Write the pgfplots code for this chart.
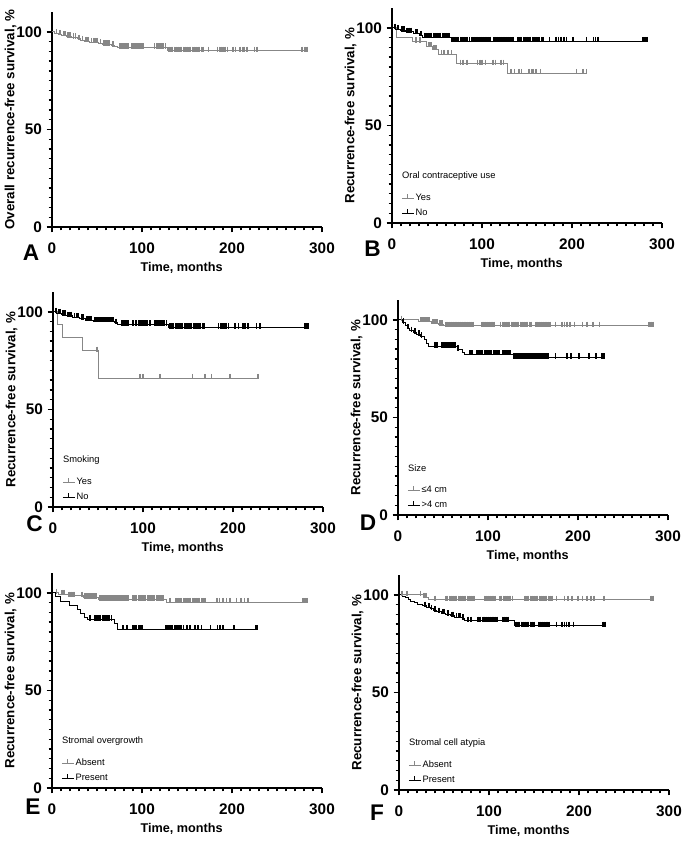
\documentclass[border=0pt]{standalone}
\usepackage{fontspec}
\setmainfont{Liberation Sans}
\usepackage{pgfplots}
\pgfplotsset{compat=1.18}
\definecolor{kmgray}{RGB}{135,135,135}
\tikzset{ltitle/.style={anchor=west, font=\fontsize{7}{8}\selectfont, inner sep=0pt}}
\pgfplotsset{
  km/.style={
    scale only axis, width=202.5pt, height=161pt, anchor=south west,
    xmin=0, xmax=300, ymin=0, ymax=110,
    axis lines=left, axis line style={-, line width=1.3pt},
    xtick={0,100,200,300}, ytick={0,50,100},
    minor x tick num=9, minor y tick num=9,
    tick align=outside,
    major tick length=4pt, minor tick length=2.6pt,
    tick style={line width=1pt, black},
    /pgf/number format/assume math mode=true,
    ticklabel style={font=\fontsize{11.5}{12}\selectfont\bfseries},
    xticklabel style={yshift=-4pt},
    xlabel={Time, months},
    every axis y label/.style={at={(axis description cs:0,0.5)}, xshift=-31pt,
      rotate=90, anchor=center, font=\fontsize{10}{11}\selectfont\bfseries},
    every axis x label/.style={at={(axis description cs:0.48,0)}, anchor=center,
      yshift=-30.5pt, font=\fontsize{9.5}{11}\selectfont\bfseries},
    ylabel={Recurrence-free survival, \%},
    legend style={at={(axis cs:10,2)}, anchor=south west, draw=none, fill=none,
      font=\fontsize{7}{8}\selectfont, row sep=3pt, inner sep=0pt,
      nodes={inner sep=1pt}},
    legend cell align=left,
    legend image code/.code={
      \draw[##1, mark=none] (0pt,0pt) -- (9pt,0pt);
      \draw[##1, mark=none] (4.5pt,0pt) -- (4.5pt,3pt);},
  },
  curve/.style={const plot, line width=0.75pt, mark=none, forget plot},
  cens/.style={only marks, mark=|, mark size=2pt, forget plot,
    mark options={line width=1.3pt, yshift=1.2pt}},
}
\begin{document}
\begin{tikzpicture}
\useasboundingbox (0,0) rectangle (513.75pt,633pt);

% A
\begin{axis}[km, at={(39pt,462.75pt)}, ylabel={Overall recurrence-free survival, \%}]
\addplot[curve, kmgray] coordinates {(0,100)(3,99.4)(7,98.8)(11,98.2)(16,97.6)(22,97)(28,96.4)(32,95.8)(36,95.2)(42,94.7)(52,94.1)(56,93.5)(66,93)(70,92.4)(73,91.9)(128,90.3)(284,90.3)};
\addplot[cens, kmgray] coordinates {(5,99.4)(9,98.8)(13,98.2)(15,98.2)(18,97.6)(20,97.6)(24,97)(26,97)(30,96.4)(34,95.8)(38,95.2)(40,95.2)(44,94.7)(46,94.7)(48,94.7)(50,94.7)(54,94.1)(58,93.5)(60,93.5)(62,93.5)(64,93.5)(68,93)(75,91.9)(77,91.9)(79,91.9)(81,91.9)(83,91.9)(85,91.9)(89,91.9)(91,91.9)(93,91.9)(95,91.9)(97,91.9)(99,91.9)(101,91.9)(114,91.9)(116,91.9)(118,91.9)(120,91.9)(122,91.9)(124,91.9)(126,91.9)
(130,90.3)(132,90.3)(134,90.3)(136,90.3)(138,90.3)(140,90.3)(142,90.3)(144,90.3)(146,90.3)(148,90.3)(150,90.3)(152,90.3)(154,90.3)(156,90.3)(158,90.3)(160,90.3)(162,90.3)(164,90.3)(166,90.3)(168,90.3)
(174,90.3)(184,90.3)(186,90.3)(188,90.3)(190,90.3)(192,90.3)(195,90.3)(201,90.3)(204,90.3)(209,90.3)(212,90.3)(214,90.3)(217,90.3)(225,90.3)(228,90.3)(278,90.3)(281,90.3)(283,90.3)};
\end{axis}

% B
\begin{axis}[km, at={(294pt,465.75pt)}]
\addplot[curve, kmgray] coordinates {(0,100)(5,95)(23,93)(38,90.5)(45,89)(52,86.5)(72,81.5)(128,76.8)(217,76.8)};
\addplot[cens, kmgray] coordinates {(27,93)(31,93)(41,90.5)(43,90.5)(47,89)(49,89)(55,86.5)(58,86.5)(62,86.5)(66,86.5)(76,81.5)(79,81.5)(83,81.5)(95,81.5)(98,81.5)(100,81.5)(104,81.5)(112,81.5)(115,81.5)(121,81.5)(124,81.5)(132,76.8)(136,76.8)(141,76.8)(144,76.8)(152,76.8)(155,76.8)(157,76.8)(160,76.8)(165,76.8)(205,76.8)(212,76.8)(216,76.8)};
\addplot[curve, black] coordinates {(0,100)(4,99.3)(9,98.6)(15,97.9)(24,97.2)(31,96.2)(34,95.2)(66,93.2)(284,93.2)};
\addplot[cens, black] coordinates {(3,100)(6,99.3)(7,99.3)(11,98.6)(13,98.6)(17,97.9)(19,97.9)(21,97.9)(26,97.2)(28,97.2)(32,96.2)(36,95.2)(38,95.2)(40,95.2)(42,95.2)(44,95.2)(46,95.2)(48,95.2)(50,95.2)(52,95.2)(54,95.2)(56,95.2)(58,95.2)(60,95.2)(62,95.2)(64,95.2)
(68,93.2)(70,93.2)(72,93.2)(74,93.2)(76,93.2)(78,93.2)(80,93.2)(82,93.2)(84,93.2)(86,93.2)(89,93.2)(91,93.2)(93,93.2)(95,93.2)(97,93.2)(99,93.2)(101,93.2)(103,93.2)(105,93.2)(107,93.2)(109,93.2)
(113,93.2)(115,93.2)(117,93.2)(119,93.2)(121,93.2)(123,93.2)(125,93.2)(127,93.2)(129,93.2)(131,93.2)(133,93.2)(135,93.2)
(140,93.2)(142,93.2)(144,93.2)(146,93.2)(148,93.2)(150,93.2)(152,93.2)(154,93.2)(156,93.2)(158,93.2)(160,93.2)(162,93.2)(164,93.2)(166,93.2)(168,93.2)
(175,93.2)(182,93.2)(185,93.2)(188,93.2)(191,93.2)(194,93.2)(201,93.2)(216,93.2)(224,93.2)(226,93.2)(229,93.2)(279,93.2)(281,93.2)(283,93.2)};
\node[ltitle] at (axis cs:11,24) {Oral contraceptive use};
\addlegendimage{kmgray, line width=0.75pt}\addlegendentry{Yes}
\addlegendimage{black, line width=0.75pt}\addlegendentry{No}
\end{axis}

% C
\begin{axis}[km, at={(39.75pt,252.75pt)}]
\addplot[curve, kmgray] coordinates {(0,100)(5,93.3)(11,86.7)(33,80)(51,66)(228,66)};
\addplot[cens, kmgray] coordinates {(49,80)(97,66)(100,66)(119,66)(155,66)(169,66)(176,66)(197,66)(228,66)};
\addplot[curve, black] coordinates {(0,100)(4,99.3)(9,98.6)(14,97.9)(22,97.2)(30,96.5)(36,95.8)(45,95.1)(68,94.4)(72,93.5)(128,92)(285,92)};
\addplot[cens, black] coordinates {(3,100)(6,99.3)(8,99.3)(11,98.6)(13,98.6)(16,97.9)(18,97.9)(20,97.9)(24,97.2)(26,97.2)(28,97.2)(32,96.5)(34,96.5)(38,95.8)(40,95.8)(42,95.8)(47,95.1)(49,95.1)(51,95.1)(53,95.1)(55,95.1)(57,95.1)(59,95.1)(61,95.1)(63,95.1)(65,95.1)(67,95.1)(70,94.4)
(76,93.5)(78,93.5)(80,93.5)(82,93.5)(84,93.5)(89,93.5)(92,93.5)(95,93.5)(97,93.5)(99,93.5)(101,93.5)(103,93.5)(105,93.5)(108,93.5)(113,93.5)(115,93.5)(117,93.5)(119,93.5)(121,93.5)(123,93.5)(126,93.5)
(130,92)(132,92)(134,92)(136,92)(138,92)(140,92)(142,92)(144,92)(146,92)(148,92)(150,92)(152,92)(154,92)(156,92)(158,92)(160,92)(162,92)(164,92)(166,92)(168,92)
(184,92)(186,92)(188,92)(190,92)(192,92)(195,92)(202,92)(206,92)(211,92)(213,92)(217,92)(226,92)(230,92)(280,92)(282,92)(284,92)};
\node[ltitle] at (axis cs:11,24) {Smoking};
\addlegendimage{kmgray, line width=0.75pt}\addlegendentry{Yes}
\addlegendimage{black, line width=0.75pt}\addlegendentry{No}
\end{axis}

% D
\begin{axis}[km, at={(298.5pt,246.75pt)}]
\addplot[curve, kmgray] coordinates {(0,100)(23,99.2)(37,98.2)(45,97.6)(51,96.9)(284,96.9)};
\addplot[cens, kmgray] coordinates {(4,100)(25,99.2)(27,99.2)(29,99.2)(31,99.2)(33,99.2)(35,99.2)(39,98.2)(41,98.2)(43,98.2)(47,97.6)(49,97.6)
(53,96.9)(55,96.9)(57,96.9)(59,96.9)(61,96.9)(63,96.9)(65,96.9)(67,96.9)(69,96.9)(71,96.9)(73,96.9)(75,96.9)(77,96.9)(79,96.9)(81,96.9)(83,96.9)
(93,96.9)(95,96.9)(97,96.9)(99,96.9)(101,96.9)(103,96.9)(105,96.9)(107,96.9)
(114,96.9)(116,96.9)(118,96.9)(120,96.9)(122,96.9)(124,96.9)(126,96.9)(128,96.9)(130,96.9)(132,96.9)(134,96.9)(136,96.9)(138,96.9)(140,96.9)(142,96.9)(144,96.9)(146,96.9)(148,96.9)
(153,96.9)(155,96.9)(157,96.9)(159,96.9)(161,96.9)(163,96.9)(165,96.9)(167,96.9)(169,96.9)
(175,96.9)(182,96.9)(185,96.9)(188,96.9)(191,96.9)(196,96.9)(205,96.9)(210,96.9)(217,96.9)(224,96.9)(279,96.9)(281,96.9)(283,96.9)};
\addplot[curve, black] coordinates {(0,100)(5,98.6)(8,97.2)(10,95.8)(13,94.4)(17,93.5)(21,92.5)(25,91.5)(29,90)(32,88)(34,86.3)(66,84.8)(72,83.2)(74,82.3)(128,80.6)(229,80.6)};
\addplot[cens, black] coordinates {(6,98.6)(11,95.8)(15,94.4)(19,93.5)(23,92.5)(26,91.5)(41,86.3)(43,86.3)(49,86.3)(51,86.3)(53,86.3)(55,86.3)(57,86.3)(59,86.3)(61,86.3)(63,86.3)(67,84.8)
(80,82.3)(82,82.3)(88,82.3)(90,82.3)(92,82.3)(94,82.3)(96,82.3)(98,82.3)(100,82.3)(102,82.3)(104,82.3)(106,82.3)(108,82.3)(110,82.3)(112,82.3)(117,82.3)(119,82.3)(121,82.3)(123,82.3)(125,82.3)
(129,80.6)(131,80.6)(133,80.6)(135,80.6)(137,80.6)(139,80.6)(141,80.6)(143,80.6)(145,80.6)(147,80.6)(149,80.6)(151,80.6)(153,80.6)(155,80.6)(157,80.6)(159,80.6)(161,80.6)(163,80.6)(165,80.6)(167,80.6)
(175,80.6)(188,80.6)(192,80.6)(201,80.6)(212,80.6)(220,80.6)(227,80.6)(229,80.6)};
\node[ltitle] at (axis cs:11,24) {Size};
\addlegendimage{kmgray, line width=0.75pt}\addlegendentry{≤4 cm}
\addlegendimage{black, line width=0.75pt}\addlegendentry{>4 cm}
\end{axis}

% E
\begin{axis}[km, at={(39pt,42pt)}]
\addplot[curve, kmgray] coordinates {(0,100)(7,99.4)(18,98.5)(35,97.6)(52,96.5)(127,95.2)(283,95.2)};
\addplot[cens, kmgray] coordinates {(5,100)(11,99.4)(13,99.4)(19,98.5)(21,98.5)(23,98.5)(25,98.5)(33,98.5)(37,97.6)(39,97.6)(41,97.6)(43,97.6)(45,97.6)(47,97.6)(49,97.6)
(53,96.5)(55,96.5)(57,96.5)(59,96.5)(61,96.5)(63,96.5)(65,96.5)(67,96.5)(69,96.5)(71,96.5)(73,96.5)(75,96.5)(77,96.5)(79,96.5)(81,96.5)(83,96.5)(85,96.5)
(90,96.5)(92,96.5)(94,96.5)(96,96.5)(98,96.5)(100,96.5)(102,96.5)(104,96.5)(106,96.5)(108,96.5)(110,96.5)(112,96.5)(114,96.5)(116,96.5)(118,96.5)(120,96.5)(122,96.5)(124,96.5)
(131,95.2)(138,95.2)(140,95.2)(142,95.2)(144,95.2)(146,95.2)(148,95.2)(150,95.2)(152,95.2)(154,95.2)(156,95.2)(158,95.2)(160,95.2)(162,95.2)(164,95.2)(166,95.2)(168,95.2)(170,95.2)
(183,95.2)(186,95.2)(190,95.2)(194,95.2)(198,95.2)(205,95.2)(210,95.2)(214,95.2)(218,95.2)(279,95.2)(281,95.2)(283,95.2)};
\addplot[curve, black] coordinates {(0,100)(4,97.9)(9,95.8)(20,93.7)(28,91.6)(32,89.5)(36,87.5)(40,86.3)(70,84.2)(73,81.3)(228,81.3)};
\addplot[cens, black] coordinates {(42,86.3)(48,86.3)(50,86.3)(52,86.3)(54,86.3)(56,86.3)(58,86.3)(60,86.3)(62,86.3)(64,86.3)(66,86.3)
(79,81.3)(83,81.3)(90,81.3)(92,81.3)(94,81.3)(96,81.3)(98,81.3)(100,81.3)
(126,81.3)(128,81.3)(130,81.3)(132,81.3)(134,81.3)(136,81.3)(138,81.3)(140,81.3)(142,81.3)(144,81.3)(146,81.3)
(150,81.3)(153,81.3)(159,81.3)(162,81.3)(166,81.3)(176,81.3)(184,81.3)(187,81.3)(190,81.3)(202,81.3)(226,81.3)(228,81.3)};
\node[ltitle] at (axis cs:11,24) {Stromal overgrowth};
\addlegendimage{kmgray, line width=0.75pt}\addlegendentry{Absent}
\addlegendimage{black, line width=0.75pt}\addlegendentry{Present}
\end{axis}

% F
\begin{axis}[km, at={(299.25pt,40.5pt)}]
\addplot[curve, kmgray] coordinates {(0,100)(27,98.8)(33,97.4)(283,97.4)};
\addplot[cens, kmgray] coordinates {(3,100)(9,100)(24,100)(28,98.8)(30,98.8)(40,97.4)
(52,97.4)(54,97.4)(56,97.4)(58,97.4)(60,97.4)(62,97.4)(64,97.4)(66,97.4)(68,97.4)(70,97.4)(72,97.4)(74,97.4)(76,97.4)(78,97.4)(80,97.4)(82,97.4)(84,97.4)
(95,97.4)(97,97.4)(99,97.4)(101,97.4)(103,97.4)(105,97.4)(107,97.4)
(112,97.4)(114,97.4)(116,97.4)(118,97.4)(120,97.4)(122,97.4)(124,97.4)(126,97.4)
(140,97.4)(142,97.4)(144,97.4)(146,97.4)(148,97.4)(150,97.4)(152,97.4)(154,97.4)(156,97.4)(158,97.4)(160,97.4)(162,97.4)(164,97.4)(166,97.4)(168,97.4)(170,97.4)
(175,97.4)(184,97.4)(188,97.4)(192,97.4)(199,97.4)(204,97.4)(209,97.4)(213,97.4)(217,97.4)(228,97.4)(280,97.4)(282,97.4)};
\addplot[curve, black] coordinates {(0,100)(4,99.2)(7,98.4)(10,97.6)(13,96.8)(17,96)(21,95.2)(26,94.4)(31,93.6)(35,92.8)(38,92)(42,91.3)(47,90.6)(52,89.9)(57,89.2)(62,88.5)(70,87.8)(73,86.6)(128,84.1)(229,84.1)};
\addplot[cens, black] coordinates {(29,94.4)(33,93.6)(36,92.8)(40,92)(44,91.3)(45,91.3)(49,90.6)(50,90.6)(54,89.9)(55,89.9)(59,89.2)(60,89.2)(64,88.5)(66,88.5)(68,88.5)(71,87.8)
(77,86.6)(80,86.6)(88,86.6)(90,86.6)(93,86.6)(95,86.6)(97,86.6)(99,86.6)(101,86.6)(103,86.6)(105,86.6)(107,86.6)(109,86.6)(115,86.6)(117,86.6)(119,86.6)(121,86.6)
(130,84.1)(132,84.1)(134,84.1)(136,84.1)(138,84.1)(140,84.1)(142,84.1)(144,84.1)(146,84.1)(148,84.1)(150,84.1)
(155,84.1)(157,84.1)(159,84.1)(161,84.1)(163,84.1)(165,84.1)(167,84.1)
(175,84.1)(181,84.1)(184,84.1)(186,84.1)(189,84.1)(194,84.1)(227,84.1)(229,84.1)};
\node[ltitle] at (axis cs:11,24) {Stromal cell atypia};
\addlegendimage{kmgray, line width=0.75pt}\addlegendentry{Absent}
\addlegendimage{black, line width=0.75pt}\addlegendentry{Present}
\end{axis}

% panel letters
\begin{scope}[every node/.style={font=\fontsize{17}{17}\selectfont\bfseries, inner sep=0pt}]
\node at (23.25pt,443.25pt) {A};
\node at (279.4pt,446.25pt) {B};
\node at (26pt,240pt) {C};
\node at (276pt,240.75pt) {D};
\node at (24.75pt,27.75pt) {E};
\node at (282.75pt,23.25pt) {F};
\end{scope}
\end{tikzpicture}
\end{document}
